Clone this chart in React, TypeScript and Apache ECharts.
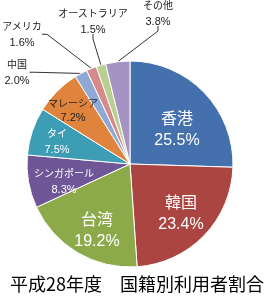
import React, { useEffect, useRef } from 'react';
import * as echarts from 'echarts';

const countries = ['香港', '韓国', '台湾', 'シンガポール', 'タイ', 'マレーシア', '中国', 'アメリカ', 'オーストラリア', 'その他'];
const shares = [25.5, 23.4, 19.2, 8.3, 7.5, 7.2, 2.0, 1.6, 1.5, 3.8];
const sliceColors = ['#4470AD', '#AB4542', '#8DAA4B', '#6F5797', '#3D9DB5', '#E0843D', '#8FA9D7', '#D68B8A', '#B9CF8F', '#A594C3'];
const titleText = '平成28年度　国籍別利用者割合';

// label block centres (layout only)
const labelCenters: Record<string, [number, number]> = {
  '香港': [177, 129],
  '韓国': [181, 213],
  '台湾': [97, 230],
  'シンガポール': [64, 181],
  'タイ': [57, 141],
  'マレーシア': [73, 110],
  '中国': [17, 72],
  'アメリカ': [22, 34],
  'オーストラリア': [93, 21],
  'その他': [158, 13],
};

const bigLabels = ['香港', '韓国', '台湾'];
const darkInside = ['マレーシア'];
const outsideLabels = ['中国', 'アメリカ', 'オーストラリア', 'その他'];

const FONT = "'Liberation Sans', 'Noto Sans CJK JP', sans-serif";

export default function App() {
  const ref = useRef<HTMLDivElement>(null);
  useEffect(() => {
    if (!ref.current) return;
    const chart = echarts.init(ref.current, undefined, { renderer: 'svg' });
    const data = countries.map((name, i) => {
      const isBig = bigLabels.includes(name);
      const isOut = outsideLabels.includes(name);
      const isDark = darkInside.includes(name);
      const color = isOut || isDark ? '#222' : '#fff';
      const lh = isBig ? 21 : isDark ? 13 : 15;
      return {
        name,
        value: shares[i],
        itemStyle: { color: sliceColors[i] },
        label: {
          position: isOut ? 'outside' : 'inside',
          color,
          rich: {
            n: { fontSize: isBig ? 16 : 10, lineHeight: lh, color, fontFamily: FONT },
            p: { fontSize: isBig ? 16 : 11, lineHeight: lh, color, fontFamily: FONT },
          },
        },
        labelLine: {
          show: isOut,
          length: 10,
          length2: 5,
          lineStyle: { color: '#333', width: 1 },
        },
      };
    });
    chart.setOption({
      animation: false,
      graphic: [
        {
          type: 'text',
          x: 137,
          y: 283,
          style: {
            text: titleText,
            fontSize: 18,
            fontFamily: "'Noto Sans CJK JP', sans-serif",
            fill: '#000',
            align: 'center',
            verticalAlign: 'middle',
            textAlign: 'center',
            textVerticalAlign: 'middle',
          },
        },
      ],
      series: [
        {
          type: 'pie',
          center: [130, 164],
          radius: 103,
          startAngle: 90,
          clockwise: true,
          avoidLabelOverlap: false,
          silent: true,
          itemStyle: { borderColor: '#fff', borderWidth: 1 },
          label: {
            show: true,
            fontFamily: FONT,
            textBorderWidth: 0,
            formatter: (p: any) => `{n|${p.name}}\n{p|${Number(p.value).toFixed(1)}%}`,
          },
          labelLayout: (p: any) => {
            const c = labelCenters[countries[p.dataIndex]];
            return { x: c[0], y: c[1], align: 'center', verticalAlign: 'middle' };
          },
          data,
        },
      ],
    });
    return () => chart.dispose();
  }, []);
  return <div ref={ref} style={{ position: 'fixed', left: 0, top: 0, width: 267, height: 299 }} />;
}
